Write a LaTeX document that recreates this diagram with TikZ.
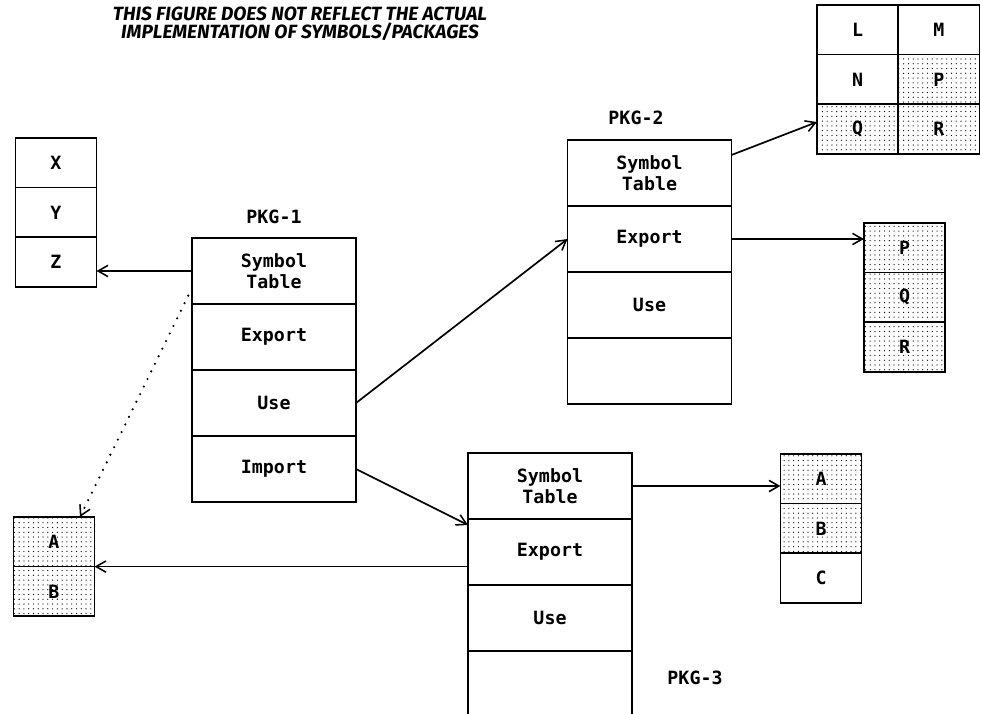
\documentclass[tikz,border=0pt]{standalone}
\usepackage{fontspec}
\usepackage{tikz}
\usetikzlibrary{positioning, arrows.meta, calc, patterns.meta}
\newfontfamily\cellfont{DejaVu Sans Mono}
\newfontfamily\notefont{Fira Sans}

\begin{document}
\begin{tikzpicture}[
            x=0.025cm, y=-0.025cm,
            >={Straight Barb[length=7pt,width=8pt,line width=1.1pt]},
            every node/.style={inner sep=0pt, outer sep=0pt},
            pkgcell/.style={draw, line width=1.2pt, minimum width=4.1cm, minimum height=1.65cm,
                align=center, font=\cellfont\bfseries\fontsize{13}{15}\selectfont},
            symcell/.style={draw, line width=1.2pt, minimum width=2.03cm, minimum height=1.24cm,
                font=\cellfont\bfseries\fontsize{13}{15}\selectfont},
            shaded/.style={pattern={Dots[distance=3.4pt, radius=0.45pt]}},
            pkglabel/.style={font=\cellfont\bfseries\fontsize{13}{15}\selectfont},
            link/.style={->, line width=1.2pt},
        ]
            \useasboundingbox (0,0) rectangle (981,714);

            % note at the top
            \node[font=\notefont\bfseries\itshape\fontsize{13.6}{12.8}\selectfont, align=center] (note) at (300,24)
                {THIS FIGURE DOES NOT REFLECT THE ACTUAL\\IMPLEMENTATION OF SYMBOLS/PACKAGES};

            % PKG-1
            \node[pkgcell] (sym1) at (274,271) {Symbol\\Table};
            \node[pkgcell, below=0pt of sym1] (exp1) {Export};
            \node[pkgcell, below=0pt of exp1] (use1) {Use};
            \node[pkgcell, below=0pt of use1] (imp1) {Import};
            \node[pkglabel] (lab1) at (274,217) {PKG-1};

            % PKG-2
            \node[pkgcell] (sym2) at (649.5,173) {Symbol\\Table};
            \node[pkgcell, below=0pt of sym2] (exp2) {Export};
            \node[pkgcell, below=0pt of exp2] (use2) {Use};
            \node[pkgcell, below=0pt of use2] (emp2) {};
            \node[pkglabel] (lab2) at (636,118) {PKG-2};

            % PKG-3
            \node[pkgcell] (sym3) at (550,486) {Symbol\\Table};
            \node[pkgcell, below=0pt of sym3] (exp3) {Export};
            \node[pkgcell, below=0pt of exp3] (use3) {Use};
            \node[pkgcell, below=0pt of use3] (emp3) {};
            \node[pkglabel] (lab3) at (695,678) {PKG-3};

            % symbol tables
            \node[symcell] (x) at (56,162.8) {X};
            \node[symcell, below=0pt of x] (y) {Y};
            \node[symcell, below=0pt of y] (z) {Z};

            \node[symcell, shaded] (a1) at (54,541.8) {A};
            \node[symcell, shaded, below=0pt of a1] (b1) {B};

            \node[symcell, shaded] (a3) at (821,478.8) {A};
            \node[symcell, shaded, below=0pt of a3] (b3) {B};
            \node[symcell, below=0pt of b3] (c3) {C};

            \node[symcell, shaded] (p2) at (904.5,247.8) {P};
            \node[symcell, shaded, below=0pt of p2] (q2) {Q};
            \node[symcell, shaded, below=0pt of q2] (r2) {R};

            \node[symcell] (l) at (857.6,29.8) {L};
            \node[symcell, right=0pt of l] (m) {M};
            \node[symcell, below=0pt of l] (n) {N};
            \node[symcell, shaded, right=0pt of n] (p) {P};
            \node[symcell, shaded, below=0pt of n] (q) {Q};
            \node[symcell, shaded, right=0pt of q] (r) {R};

            % connectors
            \draw[link] (sym1.west) -- (sym1.west -| z.east);
            \draw[link, dash pattern=on 0pt off 6pt, line cap=round, line width=1.7pt]
                ($(sym1.south west)+(0,-16)$) -- ($(a1.north)+(26,0)$);
            \draw[link] (use1.east) -- (exp2.west);
            \draw[link] (imp1.east) -- ($(exp3.north west)+(0,6)$);
            \draw[link] (a1.south -| exp3.west) -- (a1.south east);
            \draw[link] (sym3.east) -- (sym3.east -| a3.west);
            \draw[link] (exp2.east) -- (exp2.east -| p2.west);
            \draw[link] ($(sym2.east)+(0,-18)$) -- ($(q.west)+(0,-7)$);
        \end{tikzpicture}
\end{document}
